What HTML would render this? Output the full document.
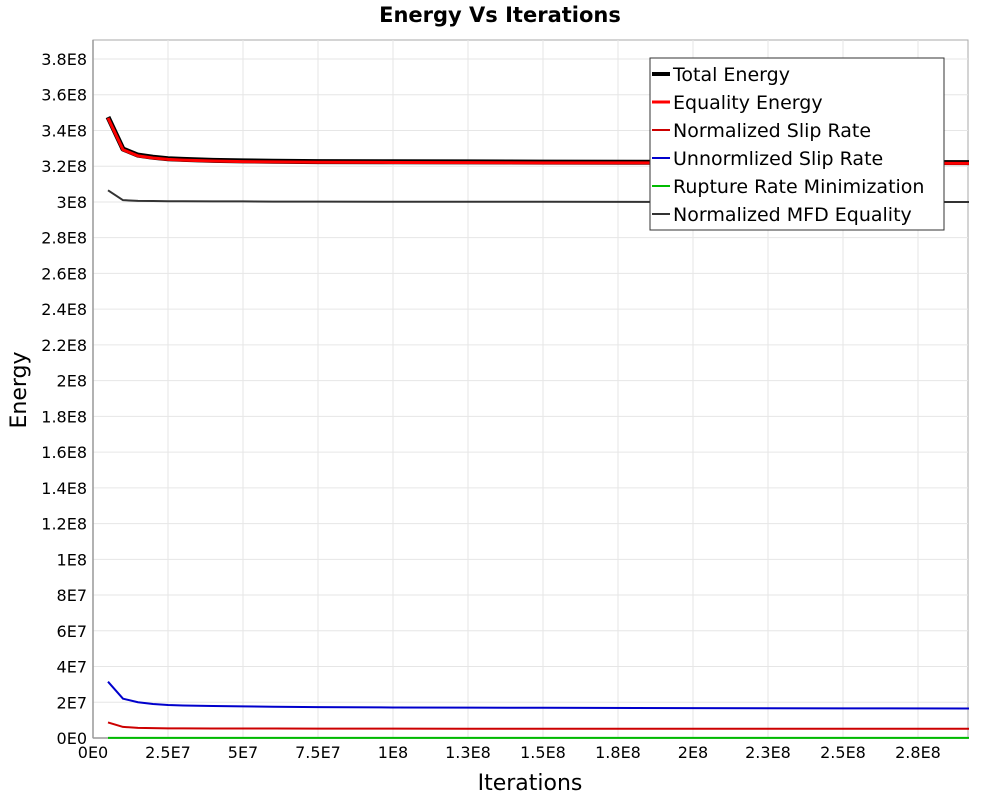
<!DOCTYPE html>
<html><head><meta charset="utf-8"><style>
body{margin:0;background:#fff;font-family:"Liberation Sans","DejaVu Sans",sans-serif}
</style></head><body>
<svg id="chart" width="1000" height="800" font-family="DejaVu Sans, Liberation Sans, sans-serif">
<text x="500" y="22" text-anchor="middle" font-size="21" font-weight="bold">Energy Vs Iterations</text>
<g id="grid"></g><g id="axes"></g><g id="series"></g>
<text x="530" y="790" text-anchor="middle" font-size="22">Iterations</text>
<text transform="translate(26,390) rotate(-90)" text-anchor="middle" font-size="22">Energy</text>
<g id="legend"></g>
</svg>
<script>
const xs=[0.5,1,1.5,2,2.5,3,4,5,6,7.5,10,12.5,15,20,25,29.2]; // in 1E7
const totalE=[3.475,3.296,3.262,3.25,3.242,3.238,3.233,3.23,3.228,3.226,3.225,3.224,3.223,3.222,3.221,3.22]; // 1E8
const equalityE=[3.47,3.292,3.258,3.246,3.238,3.234,3.229,3.226,3.224,3.222,3.221,3.22,3.219,3.218,3.217,3.216];
const normSlip=[0.087,0.062,0.057,0.055,0.054,0.054,0.0535,0.053,0.053,0.0525,0.0522,0.052,0.052,0.052,0.052,0.052];
const unnormSlip=[0.315,0.22,0.2,0.19,0.185,0.182,0.179,0.177,0.175,0.173,0.171,0.17,0.169,0.167,0.166,0.165];
const rupture=[0.001,0.001,0.001,0.001,0.001,0.001,0.001,0.001,0.001,0.001,0.001,0.001,0.001,0.001,0.001,0.001];
const mfd=[3.065,3.01,3.006,3.005,3.004,3.004,3.003,3.003,3.002,3.002,3.001,3.001,3.001,3.0,3.0,3.0];
const yTicks=[0,0.2,0.4,0.6,0.8,1,1.2,1.4,1.6,1.8,2,2.2,2.4,2.6,2.8,3,3.2,3.4,3.6,3.8];
const yLabels=["0E0","2E7","4E7","6E7","8E7","1E8","1.2E8","1.4E8","1.6E8","1.8E8","2E8","2.2E8","2.4E8","2.6E8","2.8E8","3E8","3.2E8","3.4E8","3.6E8","3.8E8"];
const xTicks=[0,2.5,5,7.5,10,12.5,15,17.5,20,22.5,25,27.5];
const xLabels=["0E0","2.5E7","5E7","7.5E7","1E8","1.3E8","1.5E8","1.8E8","2E8","2.3E8","2.5E8","2.8E8"];
const L=93,R=968,T=40,B=738;
const X=v=>L+v*(75/2.5);
const Y=v=>B-v*(B-59)/3.8;
const NS="http://www.w3.org/2000/svg";
function mk(t,a,p){const e=document.createElementNS(NS,t);for(const k in a)e.setAttribute(k,a[k]);p.appendChild(e);return e;}
const grid=document.getElementById('grid'),axes=document.getElementById('axes'),ser=document.getElementById('series'),leg=document.getElementById('legend');
const bg=mk('rect',{x:L,y:T,width:R-L,height:B-T,fill:'#fff',stroke:'#aaa'},grid);


yTicks.forEach((v,i)=>{
 mk('line',{x1:L,x2:R,y1:Y(v),y2:Y(v),stroke:'#e6e6e6'},grid);
 const t=mk('text',{x:L-6,y:Y(v)+6,'text-anchor':'end','font-size':16},axes);t.textContent=yLabels[i];
 
 
});
xTicks.forEach((v,i)=>{
 mk('line',{x1:X(v),x2:X(v),y1:T,y2:B,stroke:'#e6e6e6'},grid);
 const t=mk('text',{x:X(v),y:B+20,'text-anchor':'middle','font-size':16},axes);t.textContent=xLabels[i];
 
 
});
mk('line',{x1:L,x2:L,y1:T,y2:B,stroke:'#999','stroke-width':1.5},axes);
mk('line',{x1:L,x2:R,y1:B,y2:B,stroke:'#999','stroke-width':1.5},axes);
const series=[
 ["Total Energy",totalE,'#000',5,'total-energy-line'],
 ["Equality Energy",equalityE,'#ff0000',3,'equality-energy-line'],
 ["Normalized Slip Rate",normSlip,'#cc0000',2,'normalized-slip-rate-line'],
 ["Unnormlized Slip Rate",unnormSlip,'#0000cc',2,'unnormalized-slip-rate-line'],
 ["Rupture Rate Minimization",rupture,'#00bb00',2,'rupture-rate-line'],
 ["Normalized MFD Equality",mfd,'#333333',2,'normalized-mfd-line']];
series.forEach(s=>{
 const p=mk('polyline',{points:xs.map((x,i)=>X(x)+','+Y(s[1][i])).join(' '),fill:'none',stroke:s[2],'stroke-width':s[3],'stroke-linejoin':'round'},ser);
 
 
});
const lb=mk('rect',{x:650,y:58,width:294,height:172,fill:'#fff',stroke:'#333'},leg);


series.forEach((s,i)=>{
 const y=74+i*28;
 mk('line',{x1:652,x2:670,y1:y,y2:y,stroke:s[2],'stroke-width':s[3]===5?4:s[3]===3?3:2},leg);
 const t=mk('text',{x:673,y:y+7,'font-size':19},leg);t.textContent=s[0];
 
 
});
</script>
</body></html>
